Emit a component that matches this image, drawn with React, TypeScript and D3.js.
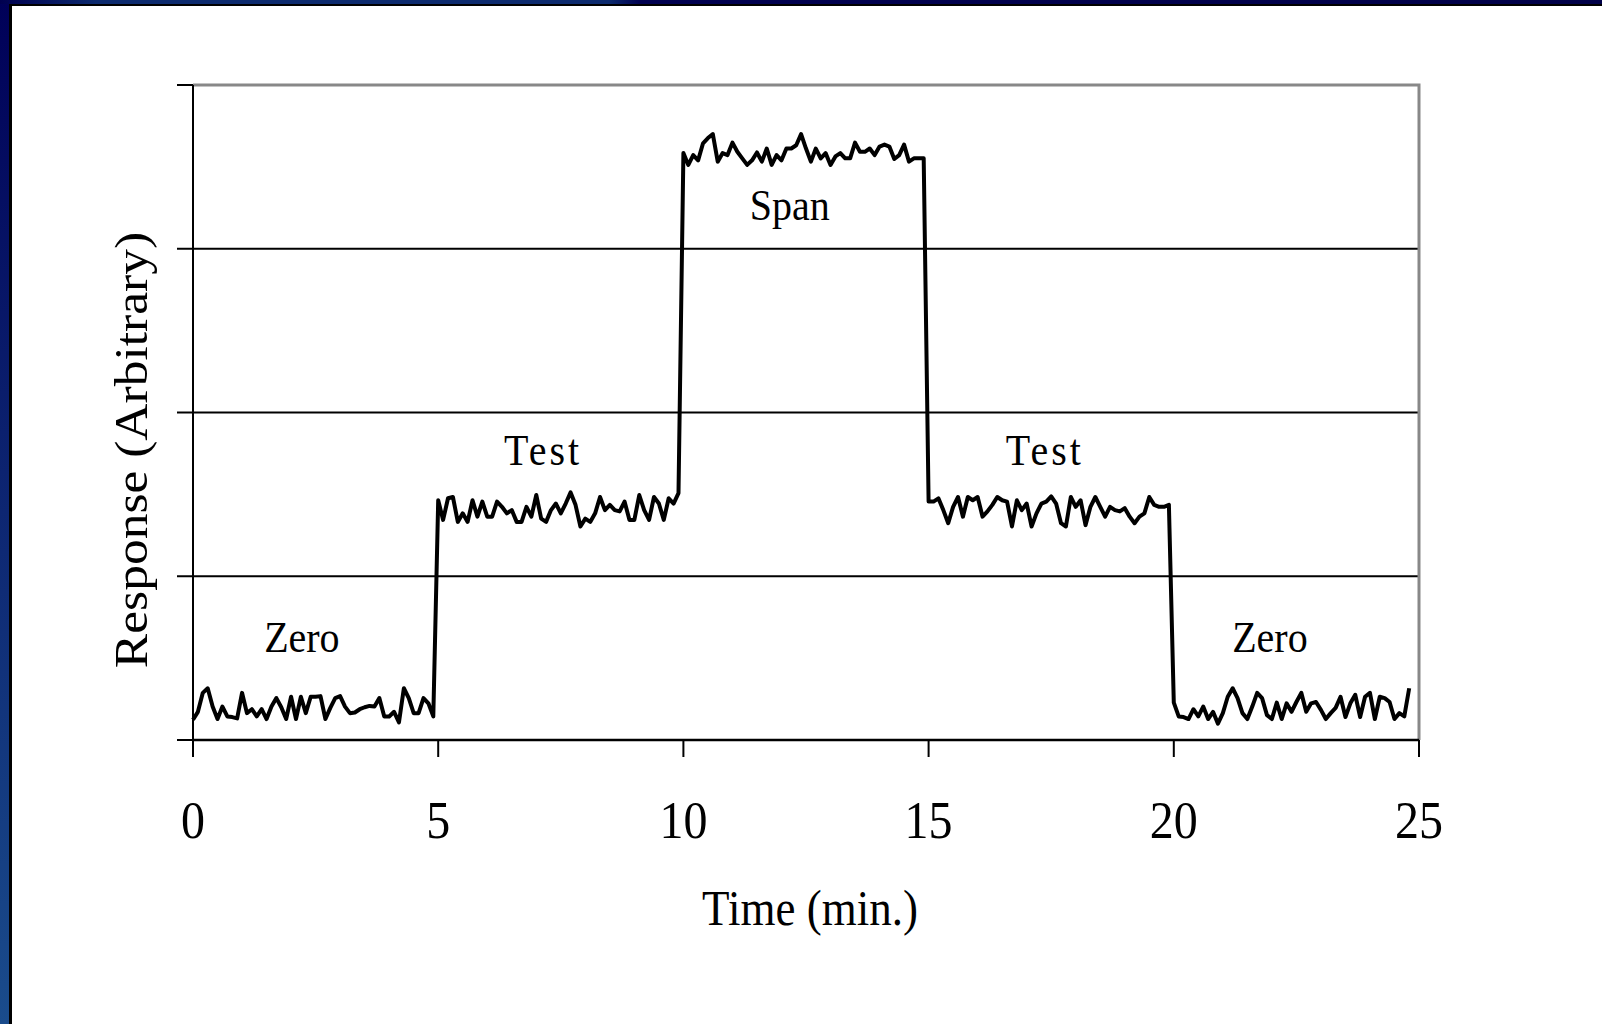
import React, { useEffect, useRef } from 'react';
import * as d3 from 'd3';

// one reading every 0.1 min
const sampleStep = 0.1;

// Response readings for each phase (arbitrary units, 0..100 full scale)
const zeroStart = [
  3.1, 4.3, 7.2, 7.9, 5.1, 3.2, 5.1, 3.6, 3.5, 3.3,
  7.2, 4.1, 4.7, 3.6, 4.7, 3.2, 5.1, 6.4, 5.0, 3.2,
  6.6, 3.2, 6.6, 4.1, 6.6, 6.6, 6.7, 3.2, 4.9, 6.4,
  6.7, 5.1, 4.1, 4.2, 4.7, 5.0, 5.2, 5.1, 6.4, 3.6,
  3.6, 4.3, 2.7, 7.9, 6.4, 4.1, 4.1, 6.4, 5.6, 3.6,
];
const testFirst = [
  36.6, 33.6, 36.9, 37.1, 33.3, 34.6, 33.3, 36.6, 34.1, 36.4,
  34.1, 34.1, 36.4, 35.6, 34.6, 35.1, 33.3, 33.3, 35.6, 34.1,
  37.4, 33.8, 33.3, 35.1, 36.1, 34.6, 36.1, 37.8, 35.9, 32.6,
  33.8, 33.3, 34.6, 37.1, 35.1, 35.9, 35.1, 34.9, 36.4, 33.6,
  33.6, 37.4, 35.1, 33.6, 37.1, 36.1, 33.6, 36.9, 36.1, 37.7,
];
const spanLevel = [
  89.6, 87.8, 89.3, 88.5, 91.1, 91.9, 92.5, 88.3, 89.6, 89.3,
  91.2, 89.8, 88.8, 87.8, 88.5, 89.7, 88.3, 90.3, 87.8, 89.3,
  88.5, 90.3, 90.3, 90.8, 92.5, 90.3, 88.3, 90.3, 88.8, 89.6,
  87.8, 89.1, 89.6, 88.8, 88.8, 91.2, 89.8, 89.8, 90.3, 89.3,
  90.6, 90.9, 90.6, 88.7, 89.3, 90.9, 88.3, 88.8, 88.8, 88.8,
];
const testSecond = [
  36.4, 36.4, 36.9, 35.1, 33.1, 35.6, 37.1, 34.1, 37.1, 36.6,
  37.1, 34.1, 34.9, 35.9, 37.1, 36.6, 36.4, 32.6, 36.6, 35.1,
  36.1, 32.6, 34.6, 36.1, 36.4, 37.2, 36.1, 33.1, 32.6, 37.1,
  35.6, 36.6, 32.8, 35.6, 37.1, 35.6, 34.1, 35.6, 35.1, 34.9,
  35.4, 34.1, 33.1, 34.1, 34.6, 37.1, 35.9, 35.6, 35.6, 35.9,
];
const zeroEnd = [
  5.7, 3.6, 3.5, 3.2, 4.7, 3.6, 5.1, 3.2, 4.3, 2.5,
  4.1, 6.6, 7.9, 6.4, 4.1, 3.2, 5.1, 7.2, 6.4, 3.8,
  3.2, 5.7, 3.2, 5.6, 4.3, 5.8, 7.2, 4.3, 5.6, 5.8,
  4.6, 3.2, 4.1, 4.9, 6.6, 3.5, 5.6, 6.9, 3.5, 6.6,
  7.2, 3.2, 6.6, 6.4, 5.8, 3.2, 4.1, 3.6, 7.9,
];

const segments = [zeroStart, testFirst, spanLevel, testSecond, zeroEnd];
const segmentStarts = [0, 5, 10, 15, 20];

const xTicks = [0, 5, 10, 15, 20, 25];
const yTicks = [0, 25, 50, 75, 100];
const gridLevels = [25, 50, 75];

const labelNames = ['Zero', 'Test', 'Span', 'Test', 'Zero'];
const labelTimes = [2.22, 7.14, 12.17, 17.37, 21.96];
const labelLevels = [13.4, 42, 79.4, 42, 13.4];

const FONT = '"Liberation Serif", "Times New Roman", serif';
const STRETCH = 1.12; // source chart text is a bit tall

function App() {
  const chRef = useRef<HTMLDivElement>(null);

  useEffect(() => {
    drawChart();
  }, []);

  function drawChart() {
    d3.select(chRef.current).select('svg').remove();

    const W = 1602, H = 1024;
    const left = 193, right = 1419, top = 85, bottom = 740;

    const svg = d3.select(chRef.current)
      .append('svg')
      .attr('width', W)
      .attr('height', H)
      .style('display', 'block');

    // slide frame
    const defs = svg.append('defs');
    const side = defs.append('linearGradient').attr('id', 'side').attr('x1', 0).attr('y1', 0).attr('x2', 0).attr('y2', 1);
    side.append('stop').attr('offset', '0%').attr('stop-color', '#000058');
    side.append('stop').attr('offset', '100%').attr('stop-color', '#1a4c8c');
    const band = defs.append('linearGradient').attr('id', 'band').attr('x1', 0).attr('y1', 0).attr('x2', 1).attr('y2', 0);
    band.append('stop').attr('offset', '0%').attr('stop-color', '#000050');
    band.append('stop').attr('offset', '6%').attr('stop-color', '#0c2a6e');
    band.append('stop').attr('offset', '38%').attr('stop-color', '#0c2a6e');
    band.append('stop').attr('offset', '40%').attr('stop-color', '#000050');
    band.append('stop').attr('offset', '100%').attr('stop-color', '#000048');

    svg.append('rect').attr('width', W).attr('height', H).attr('fill', 'url(#side)');
    svg.append('rect').attr('width', W).attr('height', 4).attr('fill', 'url(#band)');
    svg.append('rect').attr('x', 9).attr('y', 4).attr('width', W - 9).attr('height', H - 4).attr('fill', '#000');
    svg.append('rect').attr('x', 12).attr('y', 6).attr('width', W - 12).attr('height', H - 6).attr('fill', '#fff');

    const x = d3.scaleLinear().domain([0, 25]).range([left, right]);
    const y = d3.scaleLinear().domain([0, 100]).range([bottom, top]);

    const g = svg.append('g');

    // gridlines
    g.selectAll('.grid')
      .data(gridLevels)
      .enter()
      .append('line')
      .attr('x1', left).attr('x2', right)
      .attr('y1', d => y(d)).attr('y2', d => y(d))
      .attr('stroke', '#000')
      .attr('stroke-width', 2);

    // gray plot border (top + right)
    g.append('path')
      .attr('d', `M${left},${y(100)}H${x(25)}V${y(0)}`)
      .attr('fill', 'none')
      .attr('stroke', '#888')
      .attr('stroke-width', 3);

    // axes
    g.append('line').attr('x1', left).attr('x2', left).attr('y1', y(100)).attr('y2', y(0))
      .attr('stroke', '#000').attr('stroke-width', 2);
    g.append('line').attr('x1', left).attr('x2', right).attr('y1', y(0)).attr('y2', y(0))
      .attr('stroke', '#000').attr('stroke-width', 2.5);

    g.selectAll('.ytick')
      .data(yTicks)
      .enter()
      .append('line')
      .attr('x1', left - 16).attr('x2', left)
      .attr('y1', d => y(d)).attr('y2', d => y(d))
      .attr('stroke', '#000').attr('stroke-width', 2);

    g.selectAll('.xtick')
      .data(xTicks)
      .enter()
      .append('line')
      .attr('x1', d => x(d)).attr('x2', d => x(d))
      .attr('y1', y(0)).attr('y2', y(0) + 17)
      .attr('stroke', '#000').attr('stroke-width', 2);

    // response trace
    const points: [number, number][] = [];
    segments.forEach((vals, s) => {
      vals.forEach((v, i) => points.push([segmentStarts[s] + i * sampleStep, v]));
    });

    const line = d3.line<[number, number]>()
      .x(d => x(d[0]))
      .y(d => y(d[1]));

    g.append('path')
      .attr('d', line(points))
      .attr('fill', 'none')
      .attr('stroke', '#000')
      .attr('stroke-width', 4)
      .attr('stroke-linejoin', 'round');

    // tick labels
    g.selectAll('.xlabel')
      .data(xTicks)
      .enter()
      .append('text')
      .attr('transform', d => `translate(${x(d)},838) scale(1,${STRETCH})`)
      .attr('text-anchor', 'middle')
      .style('font-family', FONT)
      .style('font-size', '48px')
      .text(d => d);

    // phase annotations
    g.selectAll('.phase')
      .data(labelNames)
      .enter()
      .append('text')
      .attr('transform', (d, i) => `translate(${x(labelTimes[i])},${y(labelLevels[i])}) scale(1,${STRETCH})`)
      .attr('text-anchor', 'middle')
      .style('font-family', FONT)
      .style('font-size', '40px')
      .style('letter-spacing', d => (d === 'Test' ? '3px' : '0px'))
      .text(d => d);

    // axis titles
    g.append('text')
      .attr('transform', `translate(810,925) scale(1,${STRETCH})`)
      .attr('text-anchor', 'middle')
      .style('font-family', FONT)
      .style('font-size', '45px')
      .text('Time (min.)');

    g.append('text')
      .attr('transform', `translate(147,450) rotate(-90) scale(${STRETCH},1)`)
      .attr('text-anchor', 'middle')
      .style('font-family', FONT)
      .style('font-size', '46px')
      .text('Response (Arbitrary)');
  }

  return (
    <div ref={chRef} style={{ position: 'absolute', left: 0, top: 0 }}></div>
  );
}

export default App;
